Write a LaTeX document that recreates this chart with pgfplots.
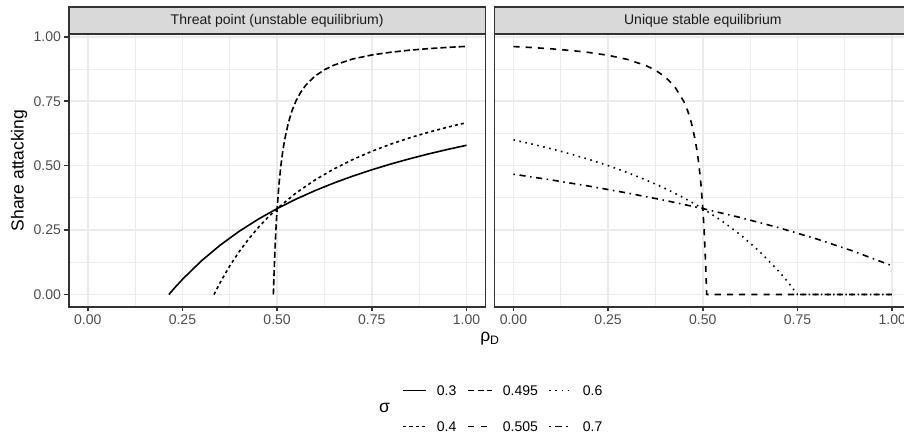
\documentclass[border=0pt]{standalone}
\usepackage{fontspec}
\setmainfont{Liberation Sans}
\usepackage{pgfplots}
\pgfplotsset{compat=1.18}

\definecolor{grey10}{HTML}{1A1A1A}
\definecolor{grey20}{HTML}{333333}
\definecolor{grey30}{HTML}{4D4D4D}
\definecolor{grey85}{HTML}{D9D9D9}
\definecolor{grey92}{HTML}{EBEBEB}

\newcommand{\smallfont}{\fontsize{10.1}{12}\selectfont}
\newcommand{\titlefont}{\fontsize{12.6}{15}\selectfont}

% line types for the six values of sigma
\tikzset{
  sg/.style={black, line width=1.15pt, line join=round},
  s03/.style={sg, solid},
  s04/.style={sg, dash pattern=on 2.2pt off 2.2pt},
  s0495/.style={sg, dash pattern=on 4.4pt off 2.2pt},
  s0505/.style={sg, dash pattern=on 4.4pt off 4.4pt},
  s06/.style={sg, dash pattern=on 1.1pt off 3.3pt},
  s07/.style={sg, dash pattern=on 1.1pt off 3.3pt on 4.4pt off 3.3pt},
}

\pgfplotsset{
  panel/.style={
    scale only axis, width=300pt, height=196.5pt, anchor=south west,
    xmin=-0.05, xmax=1.05, ymin=-0.0481, ymax=1.0107,
    xtick={0,0.25,0.5,0.75,1}, xticklabels={0.00,0.25,0.50,0.75,1.00},
    ytick={0,0.25,0.5,0.75,1}, yticklabels={0.00,0.25,0.50,0.75,1.00},
    minor xtick={0.125,0.375,0.625,0.875},
    minor ytick={0.125,0.375,0.625,0.875},
    grid=both,
    major grid style={draw=grey92, line width=1.2pt},
    minor grid style={draw=grey92, line width=0.6pt},
    axis line style={draw=grey20, line width=1.2pt},
    tick align=outside, major tick length=3.1pt, minor tick length=0pt,
    tick style={draw=grey20, line width=1.2pt},
    xtick pos=bottom, ytick pos=left,
    tick label style={font=\smallfont, text=grey30},
    xticklabel style={inner sep=2.4pt},
    yticklabel style={inner sep=2.4pt},
  },
}

\begin{document}
\begin{tikzpicture}

% Threat point (unstable equilibrium)
\begin{axis}[panel, at={(49.54pt,93.67pt)}]
\addplot[s03] coordinates {
(0.2143,0) (0.23,0.0268) (0.25,0.0588) (0.3,0.1304) (0.35,0.1919) (0.4,0.2453)
(0.45,0.2920) (0.5,0.3333) (0.55,0.3701) (0.6,0.4030) (0.65,0.4326) (0.7,0.4595)
(0.75,0.4839) (0.8,0.5062) (0.85,0.5266) (0.9,0.5455) (0.95,0.5628) (1,0.5789)
};
\addplot[s04] coordinates {
(0.3333,0) (0.35,0.0476) (0.375,0.1111) (0.4,0.1667) (0.425,0.2157) (0.45,0.2593)
(0.475,0.2982) (0.5,0.3333) (0.55,0.3939) (0.6,0.4444) (0.65,0.4872) (0.7,0.5238)
(0.75,0.5556) (0.8,0.5833) (0.85,0.6078) (0.9,0.6296) (0.95,0.6491) (1,0.6667)
};
\addplot[s0495] coordinates {
(0.4901,0) (0.491,0.0435) (0.492,0.0876) (0.495,0.1984) (0.4975,0.2721) (0.5,0.3333)
(0.505,0.4294) (0.51,0.5012) (0.515,0.5570) (0.52,0.6016) (0.53,0.6683) (0.54,0.7159)
(0.55,0.7516) (0.5625,0.7852) (0.575,0.8109) (0.6,0.8473) (0.625,0.8720) (0.65,0.8898)
(0.7,0.9138) (0.75,0.9292) (0.8,0.9399) (0.85,0.9478) (0.9,0.9539) (0.95,0.9587) (1,0.9626)
};
\end{axis}

% Unique stable equilibrium
\begin{axis}[panel, at={(356.04pt,93.67pt)}, yticklabels={}, ytick style={draw=none}]
\addplot[s0505] coordinates {
(0,0.9619) (0.05,0.9579) (0.1,0.9531) (0.15,0.9469) (0.2,0.9388) (0.25,0.9279)
(0.3,0.9123) (0.35,0.8880) (0.375,0.8699) (0.4,0.8450) (0.425,0.8082) (0.45,0.7484)
(0.46,0.7126) (0.47,0.6650) (0.48,0.5984) (0.485,0.5541) (0.49,0.4987) (0.495,0.4278)
(0.5,0.3333) (0.5025,0.2734) (0.505,0.2016) (0.508,0.0942) (0.509,0.0517) (0.5101,0)
(1,0)
};
\addplot[s06] coordinates {
(0,0.6) (0.05,0.5833) (0.1,0.5652) (0.15,0.5455) (0.2,0.5238) (0.25,0.5) (0.3,0.4737)
(0.35,0.4444) (0.4,0.4118) (0.45,0.375) (0.5,0.3333) (0.55,0.2857) (0.6,0.2308)
(0.65,0.1667) (0.7,0.0909) (0.725,0.0476) (0.75,0) (1,0)
};
\addplot[s07] coordinates {
(0,0.4667) (0.1,0.4444) (0.2,0.4203) (0.3,0.3939) (0.4,0.3651) (0.5,0.3333)
(0.6,0.2982) (0.7,0.2593) (0.8,0.2157) (0.9,0.1667) (1,0.1111)
};
\end{axis}

% facet strips
\draw[fill=grey85, draw=grey20, line width=1.2pt] (49.54pt,290.17pt) rectangle (349.54pt,309.38pt);
\draw[fill=grey85, draw=grey20, line width=1.2pt] (356.04pt,290.17pt) rectangle (656.04pt,309.38pt);
\node[text=grey10, font=\smallfont] at (199.54pt,299.78pt) {Threat point (unstable equilibrium)};
\node[text=grey10, font=\smallfont] at (506.04pt,299.78pt) {Unique stable equilibrium};

% axis titles
\node[rotate=90, font=\titlefont] at (13.68pt,191.9pt) {Share attacking};
\node[font=\titlefont] at (352.8pt,70.6pt) {ρ\textsubscript{D}};

% legend
\node[font=\titlefont] at (276.8pt,21.2pt) {σ};
\begin{scope}[every node/.style={anchor=west, inner sep=0pt, font=\smallfont}]
\draw[s03] (290.4pt,33.4pt) -- (306.4pt,33.4pt);   \node at (314.4pt,33.4pt) {0.3};
\draw[s04] (290.4pt,7.5pt) -- (306.4pt,7.5pt);     \node at (314.4pt,7.5pt) {0.4};
\draw[s0495] (337.2pt,33.4pt) -- (354.0pt,33.4pt); \node at (361.9pt,33.4pt) {0.495};
\draw[s0505] (337.2pt,7.5pt) -- (354.0pt,7.5pt);   \node at (361.9pt,7.5pt) {0.505};
\draw[s06] (395.5pt,33.4pt) -- (411.6pt,33.4pt);   \node at (419.5pt,33.4pt) {0.6};
\draw[s07] (395.5pt,7.5pt) -- (411.6pt,7.5pt);     \node at (419.5pt,7.5pt) {0.7};
\end{scope}

\pgfresetboundingbox
\useasboundingbox (0pt,0pt) rectangle (650.88pt,314.64pt);
\end{tikzpicture}
\end{document}
